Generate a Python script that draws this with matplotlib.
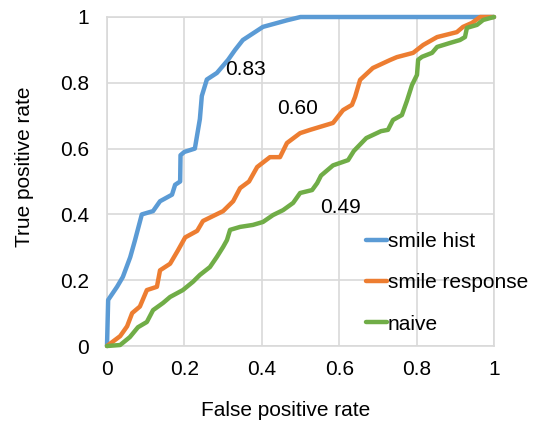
import matplotlib
matplotlib.use("Agg")
import matplotlib.pyplot as plt

plt.rcParams['font.family'] = ['Liberation Sans', 'DejaVu Sans']

# ROC curves: false positive rate (x) vs true positive rate (y)
hist_fpr = [0, 0.003, 0.026, 0.041, 0.06, 0.072, 0.09, 0.119, 0.137, 0.168, 0.176,
            0.189, 0.19, 0.2, 0.227, 0.24, 0.245, 0.258, 0.284, 0.313, 0.331,
            0.351, 0.403, 0.465, 0.5, 0.95, 1.0]
hist_tpr = [0, 0.14, 0.18, 0.21, 0.27, 0.32, 0.40, 0.41, 0.44, 0.46, 0.49,
            0.50, 0.58, 0.59, 0.60, 0.69, 0.76, 0.81, 0.83, 0.87, 0.90,
            0.93, 0.97, 0.99, 1.0, 1.0, 1.0]

resp_fpr = [0, 0.034, 0.052, 0.065, 0.085, 0.103, 0.129, 0.137, 0.163, 0.183,
            0.202, 0.233, 0.248, 0.300, 0.326, 0.344, 0.367, 0.388, 0.421, 0.447,
            0.465, 0.499, 0.525, 0.584, 0.61, 0.633, 0.641, 0.654, 0.687, 0.731,
            0.749, 0.791, 0.817, 0.853, 0.904, 0.92, 0.943, 0.964, 1.0]
resp_tpr = [0, 0.03, 0.06, 0.10, 0.12, 0.17, 0.18, 0.23, 0.25, 0.29,
            0.33, 0.35, 0.38, 0.41, 0.44, 0.48, 0.50, 0.544, 0.574, 0.574,
            0.617, 0.647, 0.657, 0.678, 0.717, 0.733, 0.757, 0.809, 0.845, 0.869,
            0.878, 0.891, 0.915, 0.939, 0.954, 0.97, 0.982, 1.0, 1.0]

naive_fpr = [0, 0.034, 0.059, 0.08, 0.103, 0.119, 0.145, 0.163, 0.196, 0.222,
             0.24, 0.266, 0.284, 0.3, 0.31, 0.318, 0.344, 0.377, 0.403, 0.429,
             0.455, 0.481, 0.499, 0.53, 0.543, 0.553, 0.584, 0.623, 0.638, 0.67,
             0.708, 0.726, 0.739, 0.762, 0.775, 0.788, 0.801, 0.804, 0.814, 0.84,
             0.853, 0.886, 0.912, 0.925, 0.93, 0.956, 0.972, 1.0]
naive_tpr = [0, 0.003, 0.027, 0.057, 0.073, 0.109, 0.131, 0.149, 0.17, 0.195,
             0.216, 0.24, 0.271, 0.301, 0.322, 0.353, 0.362, 0.368, 0.377, 0.398,
             0.413, 0.435, 0.465, 0.474, 0.495, 0.518, 0.549, 0.565, 0.593, 0.632,
             0.653, 0.657, 0.687, 0.702, 0.745, 0.793, 0.824, 0.87, 0.879, 0.891,
             0.909, 0.921, 0.93, 0.939, 0.967, 0.976, 0.991, 1.0]

series_names = ["smile hist", "smile response", "naive"]
auc_labels = ["0.83", "0.60", "0.49"]
auc_pos = [(0.305, 0.839), (0.44, 0.723), (0.55, 0.42)]
ticks = [0, 0.2, 0.4, 0.6, 0.8, 1]
tick_labels = ["0", "0.2", "0.4", "0.6", "0.8", "1"]

colors = ["#5B9BD5", "#ED7D31", "#70AD47"]
FS = 15

fig = plt.figure(figsize=(5.4, 4.23), dpi=100)
ax = fig.add_axes([107/540, 77/423, 387/540, 329/423])

curves = [(hist_fpr, hist_tpr), (resp_fpr, resp_tpr), (naive_fpr, naive_tpr)]
handles = []
for (x, y), c, name in zip(curves, colors, series_names):
    h, = ax.plot(x, y, color=c, lw=3.2, solid_joinstyle='round',
                 solid_capstyle='round', label=name, clip_on=False, zorder=3)
    handles.append(h)

for txt, (x, y) in zip(auc_labels, auc_pos):
    ax.text(x, y, txt, fontsize=FS, ha='left', va='center', zorder=4)

ax.set_xlim(0, 1)
ax.set_ylim(0, 1)
ax.set_xticks(ticks)
ax.set_xticklabels(tick_labels)
ax.set_yticks(ticks)
ax.set_yticklabels(tick_labels)
ax.tick_params(axis='x', length=0, labelsize=FS, pad=10)
ax.tick_params(axis='y', length=0, labelsize=FS, pad=13)
ax.grid(True, color="#D9D9D9", lw=1.2)
ax.set_axisbelow(True)
for s in ax.spines.values():
    s.set_color("#D9D9D9")
    s.set_linewidth(1.2)

ax.set_xlabel("False positive rate", fontsize=FS)
ax.set_ylabel("True positive rate", fontsize=FS)
ax.xaxis.set_label_coords(0.4625, -0.195)
ax.yaxis.set_label_coords(-0.212, 0.544)
ax.xaxis.label.set_va('center')
ax.yaxis.label.set_va('center')

leg = fig.legend(handles=handles, loc='center left',
                 bbox_to_anchor=(366/540, 1 - 283/423), frameon=False,
                 fontsize=FS, handlelength=1.0, handletextpad=0.05,
                 labelspacing=1.06, borderpad=0, borderaxespad=0)

fig.savefig("out.png", dpi=100)
